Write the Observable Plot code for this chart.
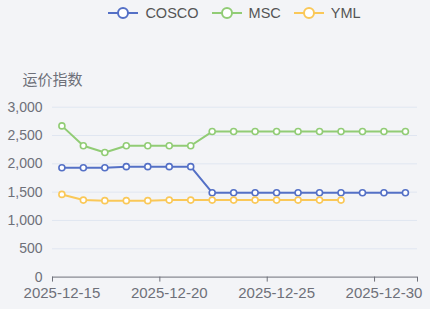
<!DOCTYPE html>
<html><head><meta charset="utf-8">
<script src="https://cdn.jsdelivr.net/npm/d3@7"></script>
<script src="https://cdn.jsdelivr.net/npm/@observablehq/plot@0.6"></script>
<style>
html,body{margin:0;padding:0;background:#f3f4f7;}
body{width:430px;height:309px;overflow:hidden;font-family:"Liberation Sans","Noto Sans CJK SC",sans-serif;}
#legend{height:26px;display:flex;justify-content:center;align-items:center;padding-left:52px;padding-right:13px;box-sizing:border-box;gap:13px;font-size:14.5px;color:#555;}
.item{display:flex;align-items:center;gap:7px;}
</style></head>
<body>
<div id="legend"></div>
<div id="chart"></div>
<script>
const dates = ["2025-12-15","2025-12-16","2025-12-17","2025-12-18","2025-12-19","2025-12-20","2025-12-21","2025-12-22","2025-12-23","2025-12-24","2025-12-25","2025-12-26","2025-12-27","2025-12-28","2025-12-29","2025-12-30","2025-12-31"];
const series = ["COSCO","MSC","YML"];
const colors = ["#5470c6","#91cc75","#fac858"];
const cosco = [1930,1930,1930,1950,1950,1950,1950,1490,1490,1490,1490,1490,1490,1490,1490,1490,1490];
const msc = [2670,2320,2200,2320,2320,2320,2320,2570,2570,2570,2570,2570,2570,2570,2570,2570,2570];
const yml = [1460,1360,1350,1350,1350,1360,1360,1360,1360,1360,1360,1360,1360,1360];
const yTicks = [0,500,1000,1500,2000,2500,3000];
const xTicks = ["2025-12-15","2025-12-20","2025-12-25","2025-12-30","2026-01-01"];
const xLabels = ["2025-12-15","2025-12-20","2025-12-25","2025-12-30"];
const yTitle = "运价指数";

const toT = d => new Date(d + "T10:30:00Z");
const rows = [];
[cosco, msc, yml].forEach((vals, si) => vals.forEach((v, i) => rows.push({series: series[si], date: toT(dates[i]), value: v})));

const xStart = new Date("2025-12-15T00:00:00Z"), xEnd = new Date("2026-01-01T00:00:00Z");
const fmt = d3.utcFormat("%Y-%m-%d");

const chart = Plot.plot({
  width: 430, height: 283,
  marginLeft: 52, marginRight: 13, marginTop: 80.7, marginBottom: 32.4,
  style: {background: "#f3f4f7", fontSize: "14px", fontFamily: '"Liberation Sans","Noto Sans CJK SC",sans-serif', color: "#6e7079"},
  x: {type: "utc", domain: [xStart, xEnd]},
  y: {domain: [0, 3000]},
  color: {domain: series, range: colors},
  marks: [
    Plot.gridY(yTicks.filter(t => t > 0), {stroke: "#e0e6f1", strokeOpacity: 1}),
    Plot.axisY(yTicks, {tickSize: 0, tickPadding: 10, tickFormat: d3.format(","), label: null, fill: "#6e7079", fontSize: 14}),
    Plot.axisX(xTicks.map(d => new Date(d + "T00:00:00Z")), {tickSize: 5, stroke: "#6e7079", label: null, tickFormat: () => ""}),
    Plot.axisX(xLabels.map(toT), {tickSize: 0, tickPadding: 10, fill: "#6e7079", label: null, fontSize: 15, tickFormat: fmt}),
    Plot.ruleY([0], {stroke: "#6e7079"}),
    Plot.text([yTitle], {frameAnchor: "top-left", dx: -30, dy: -27, textAnchor: "start", lineAnchor: "middle", fill: "#6e7079", fontSize: 15}),
    Plot.line(rows, {x: "date", y: "value", z: "series", stroke: "series", strokeWidth: 2}),
    Plot.dot(rows, {x: "date", y: "value", stroke: "series", fill: "white", r: 3, strokeWidth: 1.6})
  ]
});
document.getElementById("chart").appendChild(chart);

const leg = document.getElementById("legend");
series.forEach((s, i) => {
  const it = document.createElement("div");
  it.className = "item";
  it.innerHTML = `<svg width="30" height="14"><line x1="0" x2="30" y1="7" y2="7" stroke="${colors[i]}" stroke-width="2"/><circle cx="15" cy="7" r="5" fill="white" stroke="${colors[i]}" stroke-width="2"/></svg><span>${s}</span>`;
  leg.appendChild(it);
});
</script>
</body></html>
